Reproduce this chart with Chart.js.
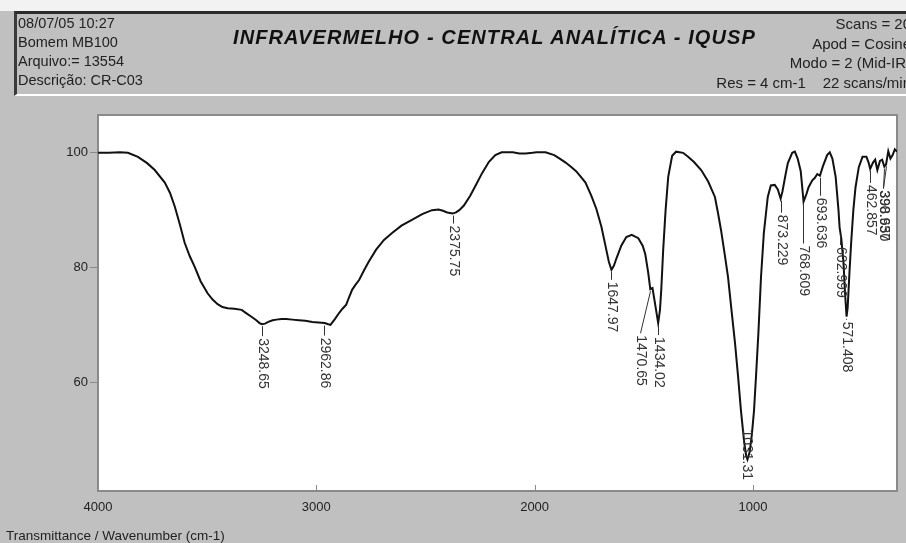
<!DOCTYPE html>
<html>
<head>
<meta charset="utf-8">
<script src="https://cdn.jsdelivr.net/npm/chart.js@4.4.0/dist/chart.umd.min.js"></script>
<style>
  html, body { margin: 0; padding: 0; }
  body {
    width: 906px; height: 543px; position: relative; overflow: hidden;
    background: #c0c0c0; color: #222;
    font-family: "Liberation Sans", Arial, sans-serif;
  }
  #topstrip { position: absolute; left: 0; top: 0; width: 906px; height: 11px; background: #f2f2f2; }
  #header {
    position: absolute; left: 14px; top: 11px; width: 892px; height: 80px;
    border-top: 3px solid #2a2a2a; border-left: 3px solid #3a3a3a; border-bottom: 2px solid #fff;
  }
  #info { position: absolute; left: 1px; top: 0; font-size: 14.5px; line-height: 19px; }
  #title {
    position: absolute; left: 216px; top: 12px; font-size: 20px; font-weight: bold; font-style: italic;
    letter-spacing: 1.1px; color: #111; white-space: nowrap;
  }
  #params { position: absolute; right: -2px; top: 0; font-size: 15px; line-height: 19.5px; text-align: right; white-space: pre; }
  #c { position: absolute; left: 0; top: 0; }
  #xlabel { position: absolute; left: 6px; top: 528px; font-size: 13.5px; color: #222; white-space: nowrap; }
</style>
</head>
<body>
<canvas id="c" width="906" height="543"></canvas>
<div id="topstrip"></div>
<div id="header">
  <div id="info">08/07/05 10:27<br>Bomem MB100<br>Arquivo:= 13554<br>Descrição: CR-C03</div>
  <div id="title">INFRAVERMELHO - CENTRAL ANALÍTICA - IQUSP</div>
  <div id="params">Scans = 20
Apod = Cosine
Modo = 2 (Mid-IR)
Res = 4 cm-1    22 scans/min</div>
</div>
<div id="xlabel">Transmittance / Wavenumber (cm-1)</div>
<script>
// spectrum
const wavenumber = [4000, 3950, 3900, 3863, 3817, 3775, 3740, 3694, 3670, 3648, 3625, 3603, 3580, 3557, 3530, 3498,
  3475, 3452, 3430, 3406, 3375, 3342, 3320, 3297, 3275, 3260, 3249, 3235, 3220, 3200, 3183, 3160, 3137, 3110,
  3080, 3050, 3018, 2990, 2962, 2945, 2935, 2915, 2895, 2880, 2863, 2850, 2836, 2820, 2804, 2780, 2760, 2726,
  2690, 2653, 2610, 2562, 2515, 2470, 2440, 2420, 2400, 2376, 2360, 2345, 2324, 2295, 2269, 2240, 2210, 2180,
  2151, 2100, 2070, 2041, 2010, 1990, 1950, 1910, 1885, 1858, 1835, 1810, 1790, 1767, 1740, 1717, 1694, 1670,
  1660, 1648, 1637, 1625, 1603, 1580, 1555, 1525, 1505, 1493, 1480, 1470, 1460, 1448, 1434, 1426, 1420, 1411,
  1400, 1388, 1370, 1352, 1320, 1297, 1270, 1237, 1205, 1174, 1160, 1146, 1130, 1114, 1098, 1082, 1068, 1055,
  1040, 1031, 1025, 1015, 1005, 995, 986, 975, 963, 950, 940, 932, 918, 900, 886, 873, 865, 850, 840, 820, 808,
  795, 781, 768, 755, 745, 728, 717, 705, 693, 680, 660, 648, 636, 621, 608, 603, 595, 585, 578, 571, 566, 558,
  550, 540, 530, 515, 498, 480, 470, 463, 450, 440, 430, 418, 408, 398, 390, 380, 370, 360, 350, 340];
const transmittance = [100, 100, 100.1, 100, 99.3, 98.2, 97.0, 94.8, 93.0, 90.6, 87.5, 84.3, 82.0, 80.1, 77.6, 75.5,
  74.4, 73.6, 73.1, 72.9, 72.8, 72.6, 72.0, 71.4, 70.8, 70.3, 70.1, 70.2, 70.5, 70.8, 70.9, 71.0, 71.0, 70.9,
  70.8, 70.7, 70.5, 70.4, 70.3, 70.1, 70.0, 71.0, 72.1, 72.8, 73.5, 74.8, 76.1, 77.0, 77.8, 79.6, 81.0, 83.1,
  84.8, 86.0, 87.3, 88.3, 89.3, 90.0, 90.1, 89.9, 89.6, 89.4, 89.6, 90.0, 90.8, 92.5, 94.4, 96.5, 98.4, 99.6,
  100.1, 100.1, 99.9, 99.9, 100.0, 100.1, 100.1, 99.6, 99.0, 98.3, 97.6, 96.8, 95.9, 94.8, 92.5, 90.2, 87.1, 82.8,
  81.0, 79.6, 80.3, 81.6, 83.8, 85.3, 85.7, 85.1, 83.8, 82.3, 79.2, 76.2, 76.4, 73.6, 70.3, 72.5, 76.0, 83.1,
  90.0, 95.8, 99.5, 100.2, 100.0, 99.3, 98.4, 97.0, 95.0, 92.3, 89.5, 86.5, 82.5, 78.3, 72.5, 66.8, 61.0, 55.1,
  49.5, 47.2, 46.5, 47.8, 50.8, 55.0, 60.9, 68.5, 78.3, 86.0, 89.5, 92.3, 94.3, 94.4, 93.6, 92.0, 93.2, 96.3, 98.2, 100.0, 100.2,
  99.0, 96.8, 91.5, 92.8, 94.0, 95.2, 95.6, 96.3, 96.0, 97.6, 99.6, 100.1, 99.0, 95.8, 90.0, 87.0, 85.0, 80.8, 75.5, 71.4, 73.0, 79.0,
  84.3, 90.0, 94.0, 97.5, 99.3, 99.3, 98.3, 97.2, 98.3, 98.8, 97.0, 98.6, 98.8, 97.6, 98.0, 100.3, 99.0, 99.6, 100.6, 100.2];

// peak picks
const peakWn = [3248.65, 2962.86, 2375.75, 1647.97, 1470.65, 1434.02, 1031.31, 873.229, 768.609, 693.636, 602.999, 571.408, 462.857, 398.650, 390.937];
const peakT = [70.1, 70.2, 89.4, 79.6, 76.2, 70.3, 46.5, 92.0, 91.5, 96.0, 86.0, 71.4, 97.2, 97.6, 98.0];
const peakText = ['3248.65', '2962.86', '2375.75', '1647.97', '1470.65', '1434.02', '1031.31', '873.229', '768.609', '693.636', '602.999', '571.408', '462.857', '398.650', '390.937'];

const xTicks = [4000, 3000, 2000, 1000];
const yTicks = [60, 80, 100];

// leader line for each pick: length down, sideways shift of the text
const leader = [
  { lead: 12, dx: 0 }, { lead: 12, dx: 0 }, { lead: 10, dx: 0 }, { lead: 10, dx: 0 },
  { lead: 44, dx: -10 }, { lead: 12, dx: 0 }, { lead: -32, dx: 0 }, { lead: 14, dx: 0 },
  { lead: 42, dx: 0 }, { lead: 20, dx: 0 }, { lead: 12, dx: 0 }, { lead: 3, dx: 0 },
  { lead: 14, dx: 0 }, { lead: 22, dx: -1 }, { lead: 24, dx: -3 }
];

const FONT = '"Liberation Sans", Arial, sans-serif';

const plotFrame = {
  id: 'plotFrame',
  beforeDraw(chart) {
    const { ctx, chartArea: a } = chart;
    ctx.save();
    ctx.fillStyle = '#fff';
    ctx.fillRect(a.left, a.top, a.right - a.left, a.bottom - a.top);
    ctx.restore();
  },
  beforeDatasetsDraw(chart) {
    const { ctx, chartArea: a, scales: { x } } = chart;
    ctx.save();
    ctx.strokeStyle = '#8a8a8a';
    ctx.lineWidth = 2;
    ctx.strokeRect(a.left, a.top, a.right - a.left, a.bottom - a.top);
    ctx.lineWidth = 1;
    xTicks.forEach(v => {
      const px = Math.round(x.getPixelForValue(v)) + 0.5;
      ctx.beginPath();
      ctx.moveTo(px, a.bottom);
      ctx.lineTo(px, a.bottom - 6);
      ctx.stroke();
    });
    ctx.restore();
  }
};

const peakLabels = {
  id: 'peakLabels',
  afterDatasetsDraw(chart) {
    const { ctx, scales: { x, y } } = chart;
    ctx.save();
    ctx.strokeStyle = '#333';
    ctx.fillStyle = '#333';
    ctx.lineWidth = 1;
    ctx.font = '14px ' + FONT;
    peakWn.forEach((w, i) => {
      const st = leader[i];
      const px = Math.round(x.getPixelForValue(w)) + 0.5;
      const py = y.getPixelForValue(peakT[i]);
      const tx = px + st.dx, ty = py + st.lead;
      if (st.lead > 0) {
        ctx.beginPath();
        ctx.moveTo(px, py + 2);
        ctx.lineTo(tx, ty);
        ctx.stroke();
      }
      ctx.save();
      ctx.translate(tx, ty + 2);
      ctx.rotate(Math.PI / 2);
      ctx.textAlign = 'left';
      ctx.textBaseline = 'middle';
      ctx.fillText(peakText[i], 0, 0);
      ctx.restore();
    });
    ctx.restore();
  }
};

new Chart(document.getElementById('c'), {
  type: 'line',
  data: {
    datasets: [{
      data: wavenumber.map((w, i) => ({ x: w, y: transmittance[i] })),
      borderColor: '#111',
      borderWidth: 2,
      pointRadius: 0,
      tension: 0,
      fill: false
    }]
  },
  options: {
    responsive: false,
    animation: false,
    layout: { padding: { left: 0, top: 115, right: 9, bottom: 0 } },
    plugins: { legend: { display: false }, tooltip: { enabled: false } },
    scales: {
      x: {
        type: 'linear', reverse: true, min: 340, max: 4000,
        afterBuildTicks: s => { s.ticks = xTicks.map(v => ({ value: v })); },
        afterFit: s => { s.height = 52; },
        grid: { drawOnChartArea: false, drawTicks: false },
        border: { display: false },
        ticks: { padding: 9, color: '#222', font: { size: 13, family: FONT }, maxRotation: 0, autoSkip: false,
          callback: v => String(v) }
      },
      y: {
        min: 41, max: 106.6,
        afterBuildTicks: s => { s.ticks = yTicks.map(v => ({ value: v })); },
        afterFit: s => { s.width = 98; },
        grid: { drawOnChartArea: false, drawTicks: true, tickLength: 8, color: '#8a8a8a' },
        border: { display: false },
        ticks: { padding: 2, color: '#222', font: { size: 13, family: FONT }, callback: v => String(v) }
      }
    }
  },
  plugins: [plotFrame, peakLabels]
});
</script>
</body>
</html>
